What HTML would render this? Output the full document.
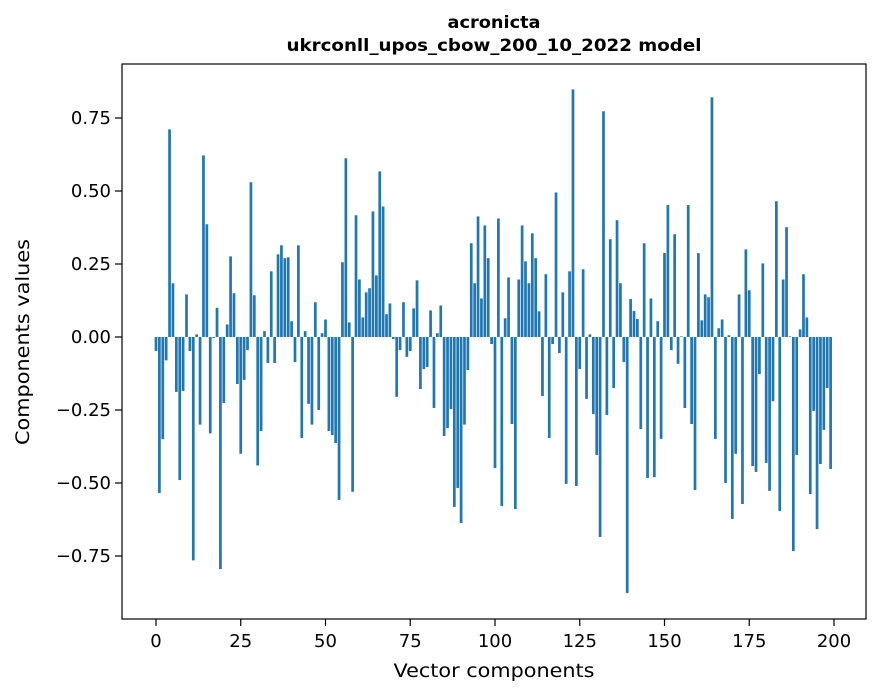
<!DOCTYPE html>
<html><head><meta charset="utf-8"><style>
body{margin:0;background:#fff;font-family:"DejaVu Sans",sans-serif;}
svg text{font-family:"DejaVu Sans",sans-serif;fill:#000;}
</style></head><body>
<svg id="chart" width="880" height="696" viewBox="0 0 880 696" xmlns="http://www.w3.org/2000/svg">
<rect width="880" height="696" fill="#fff"/>
<text x="494" y="28" text-anchor="middle" font-size="17" font-weight="bold" textLength="93" lengthAdjust="spacingAndGlyphs">acronicta</text>
<text x="494" y="51" text-anchor="middle" font-size="17" font-weight="bold" textLength="415" lengthAdjust="spacingAndGlyphs">ukrconll_upos_cbow_200_10_2022 model</text>
<g id="bars"></g>
<g id="xticks"></g>
<g id="yticks"></g>
<rect x="122" y="64" width="744" height="555" fill="none" stroke="#000" stroke-width="1.2"/>
<text x="494" y="677" text-anchor="middle" font-size="19" textLength="201" lengthAdjust="spacingAndGlyphs">Vector components</text>
<text transform="translate(29,342) rotate(-90)" text-anchor="middle" font-size="19" textLength="206" lengthAdjust="spacingAndGlyphs">Components values</text>
</svg>
<script>
const values = [
-0.048,-0.534,-0.35,-0.08,0.711,0.184,-0.188,-0.49,-0.185,0.146,
-0.048,-0.765,0.009,-0.30,0.622,0.386,-0.33,-0.003,0.10,-0.795,
-0.226,0.043,0.276,0.15,-0.161,-0.40,-0.147,-0.045,0.53,0.143,
-0.44,-0.322,0.02,-0.089,0.225,-0.089,0.283,0.314,0.27,0.273,
0.054,-0.086,0.314,-0.346,0.02,-0.229,-0.30,0.119,-0.25,0.013,
0.06,-0.322,-0.336,-0.363,-0.558,0.256,0.612,0.05,-0.53,0.417,
0.197,0.067,0.153,0.167,0.43,0.211,0.567,0.447,0.078,0.115,
-0.007,-0.205,-0.045,0.119,-0.068,-0.048,0.098,0.194,-0.178,-0.11,
-0.103,0.091,-0.243,0.013,0.108,-0.339,-0.312,-0.247,-0.582,-0.517,
-0.637,-0.30,-0.113,0.321,0.184,0.413,0.132,0.382,0.27,-0.024,
-0.449,0.406,-0.579,0.064,0.204,-0.298,-0.589,0.197,0.382,0.259,
0.184,0.355,0.27,0.088,-0.202,0.215,-0.346,-0.024,0.495,-0.055,
0.153,-0.503,0.225,0.848,-0.51,-0.11,0.232,-0.212,0.009,-0.264,
-0.404,-0.685,0.773,-0.267,0.335,-0.175,0.40,0.184,-0.086,-0.877,
0.13,0.089,0.062,-0.315,0.321,-0.483,0.132,-0.48,0.054,-0.349,
0.288,0.452,-0.045,0.352,-0.092,0.002,-0.243,0.452,-0.298,-0.524,
0.287,0.057,0.146,0.136,0.821,-0.349,0.03,0.06,-0.50,0.006,
-0.623,-0.40,0.146,-0.572,0.30,0.16,-0.442,-0.462,-0.127,0.252,
-0.431,-0.527,-0.22,0.465,-0.596,0.197,0.376,0.002,-0.733,-0.404,
0.026,0.215,0.067,-0.538,-0.253,-0.658,-0.435,-0.318,-0.175,-0.452
];
const xTicks = [0,25,50,75,100,125,150,175,200];
const yTicks = [0.75,0.5,0.25,0,-0.25,-0.5,-0.75];
const yTickLabels = ["0.75","0.50","0.25","0.00","\u22120.25","\u22120.50","\u22120.75"];

const NS="http://www.w3.org/2000/svg";
const xScale = v => 156 + v*3.39;
const yScale = v => 337 - v*292;
const bw = 0.8*3.39;
const bars=document.getElementById('bars');
values.forEach((v,i)=>{
  const r=document.createElementNS(NS,'rect');
  const y0=yScale(0), y1=yScale(v);
  r.setAttribute('x',xScale(i)-bw/2);
  r.setAttribute('y',Math.min(y0,y1));
  r.setAttribute('width',bw);
  r.setAttribute('height',Math.max(Math.abs(y1-y0),0.3));
  r.setAttribute('fill','#1f77b4');
  
  
  bars.appendChild(r);
});
const xg=document.getElementById('xticks');
xTicks.forEach(t=>{
  const x=xScale(t);
  const l=document.createElementNS(NS,'line');
  l.setAttribute('x1',x);l.setAttribute('x2',x);l.setAttribute('y1',619);l.setAttribute('y2',626);
  l.setAttribute('stroke','#000');l.setAttribute('stroke-width','1.2');
  
  
  xg.appendChild(l);
  const tx=document.createElementNS(NS,'text');
  tx.setAttribute('x',x);tx.setAttribute('y',647);tx.setAttribute('text-anchor','middle');tx.setAttribute('font-size','18');
  tx.textContent=t;
  
  
  xg.appendChild(tx);
});
const yg=document.getElementById('yticks');
yTicks.forEach((t,k)=>{
  const y=yScale(t);
  const l=document.createElementNS(NS,'line');
  l.setAttribute('x1',115);l.setAttribute('x2',122);l.setAttribute('y1',y);l.setAttribute('y2',y);
  l.setAttribute('stroke','#000');l.setAttribute('stroke-width','1.2');
  
  
  yg.appendChild(l);
  const tx=document.createElementNS(NS,'text');
  tx.setAttribute('x',111);tx.setAttribute('y',y+6);tx.setAttribute('text-anchor','end');tx.setAttribute('font-size','18');
  tx.textContent=yTickLabels[k];
  
  
  yg.appendChild(tx);
});
</script>
</body></html>
